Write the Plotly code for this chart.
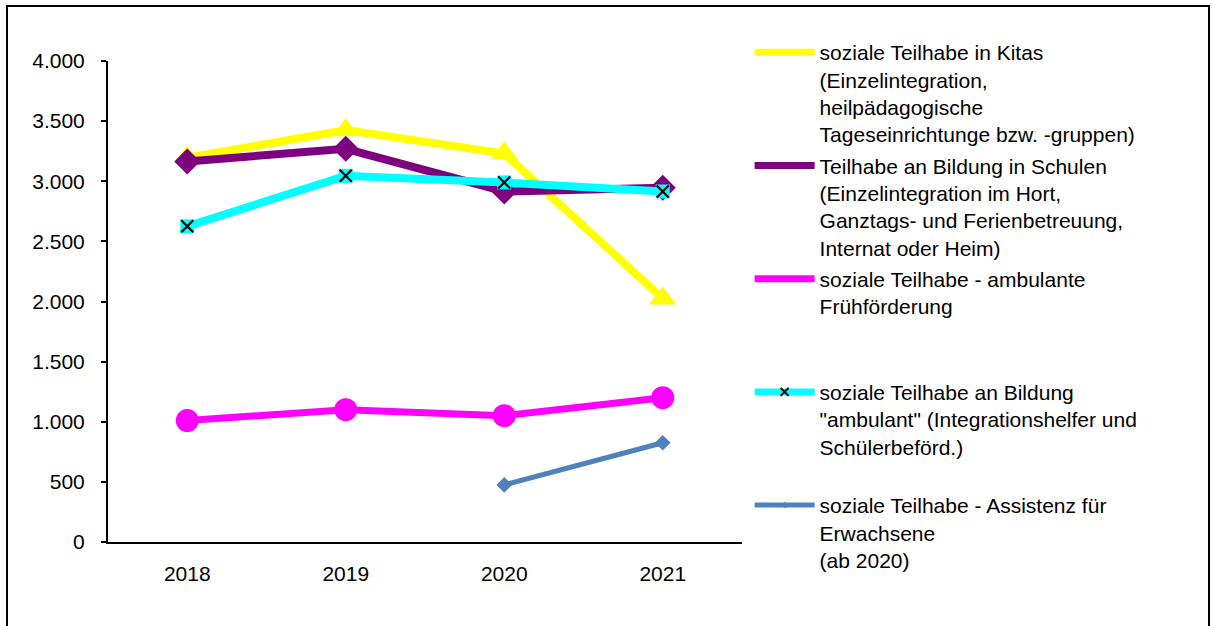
import plotly.graph_objects as go

years = ["2018", "2019", "2020", "2021"]

kitas = [3195, 3425, 3230, 2025]
schulen = [3165, 3270, 2915, 2945]
fruehfoerderung = [1010, 1100, 1050, 1200]
bildung_ambulant = [2625, 3045, 2990, 2915]
assistenz = [None, None, 475, 825]

y_ticks = [0, 500, 1000, 1500, 2000, 2500, 3000, 3500, 4000]
y_tick_labels = ["0", "500", "1.000", "1.500", "2.000", "2.500", "3.000", "3.500", "4.000"]

names = [
    "soziale Teilhabe in Kitas<br>(Einzelintegration,<br>heilpädagogische<br>Tageseinrichtunge bzw. -gruppen)",
    "Teilhabe an Bildung in Schulen<br>(Einzelintegration im Hort,<br>Ganztags- und Ferienbetreuung,<br>Internat oder Heim)",
    "soziale Teilhabe - ambulante<br>Frühförderung<br> <br> ",
    "soziale Teilhabe an Bildung<br>\"ambulant\" (Integrationshelfer und<br>Schülerbeförd.)<br> ",
    "soziale Teilhabe - Assistenz für<br>Erwachsene<br>(ab 2020)",
]

YELLOW = "#FFFF00"
PURPLE = "#7F007F"
MAGENTA = "#FF00FF"
CYAN = "#00FFFF"
BLUE = "#4F81BD"

series = [
    dict(y=kitas, color=YELLOW, width=8, symbol="triangle-up", size=24),
    dict(y=schulen, color=PURPLE, width=8, symbol="diamond", size=20),
    dict(y=fruehfoerderung, color=MAGENTA, width=7, symbol="circle", size=23),
    dict(y=bildung_ambulant, color=CYAN, width=8, symbol="x-thin", size=12),
    dict(y=assistenz, color=BLUE, width=5, symbol="diamond", size=12),
]

FONT_SIZE = 21

fig = go.Figure()

for i, s in enumerate(series):
    grp = f"g{i}"
    if s["symbol"] == "x-thin":
        # cyan backing square under the black cross markers
        fig.add_trace(go.Scatter(
            x=years, y=s["y"], mode="markers", showlegend=False, legendgroup=grp,
            marker=dict(symbol="square", size=14, color=s["color"]),
            hoverinfo="skip",
        ))
        marker = dict(symbol="x-thin", size=s["size"], line=dict(color="black", width=2.2))
        legend_marker = dict(symbol="x-thin", size=8, line=dict(color="black", width=2))
    else:
        marker = dict(symbol=s["symbol"], size=s["size"], color=s["color"])
        legend_marker = dict(symbol=s["symbol"], size=5, color=s["color"])
    fig.add_trace(go.Scatter(
        x=years, y=s["y"], mode="lines+markers", name=names[i], legendgroup=grp,
        showlegend=False, line=dict(color=s["color"], width=s["width"]),
        marker=marker, connectgaps=False,
    ))
    # legend entry with a small symbol
    fig.add_trace(go.Scatter(
        x=[None], y=[None], mode="lines+markers", name=names[i], legendgroup=grp,
        line=dict(color=s["color"], width=min(s["width"], 7)), marker=legend_marker,
    ))

fig.update_layout(
    width=1215, height=626,
    margin=dict(l=108, r=473, t=61, b=84),
    paper_bgcolor="white", plot_bgcolor="white",
    font=dict(family="Liberation Sans, Arial, sans-serif", size=FONT_SIZE, color="black"),
    showlegend=True,
    legend=dict(
        x=1.012, xanchor="left", y=1.06, yanchor="top",
        valign="top", traceorder="grouped", tracegroupgap=1,
        itemwidth=60, font=dict(size=FONT_SIZE), bgcolor="rgba(0,0,0,0)",
        maxheight=620, itemclick=False, itemdoubleclick=False,
    ),
    shapes=[dict(
        type="rect", xref="paper", yref="paper",
        x0=-0.1593, x1=1.7366, y0=-0.21, y1=1.1143,
        line=dict(color="black", width=2), fillcolor="rgba(0,0,0,0)", layer="below",
    )],
)

fig.update_xaxes(
    type="category", range=[-0.5, 3.5], showgrid=False, zeroline=False,
    showline=True, linecolor="black", linewidth=2, ticks="",
    ticklabelstandoff=12, tickfont=dict(size=FONT_SIZE),
)
fig.update_yaxes(
    range=[0, 4000], tickvals=y_ticks, ticktext=y_tick_labels,
    showgrid=False, zeroline=False, showline=True, linecolor="black", linewidth=2,
    ticks="outside", ticklen=5, tickwidth=2, tickcolor="black",
    ticklabelstandoff=12, tickfont=dict(size=FONT_SIZE),
)

fig.write_html("out.html")
